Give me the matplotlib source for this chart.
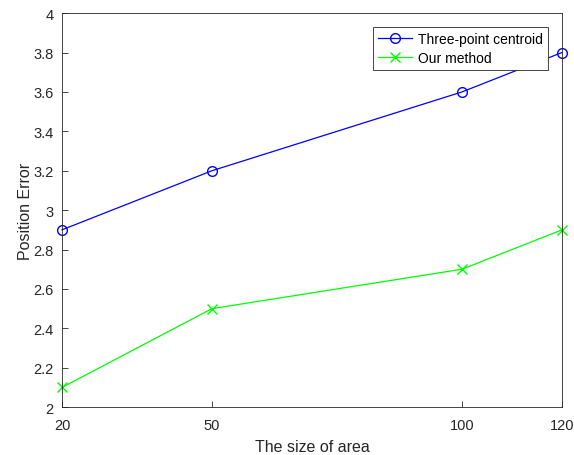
import matplotlib
matplotlib.use('Agg')
import numpy as np
from matplotlib import pyplot as plt

# data
area = [20, 50, 100, 120]
centroid_err = [2.9, 3.2, 3.6, 3.8]
our_err = [2.1, 2.5, 2.7, 2.9]
xticks = [20, 50, 100, 120]
yticks = np.round(np.arange(2.0, 4.01, 0.2), 1)
ytick_labels = ['2', '2.2', '2.4', '2.6', '2.8', '3', '3.2', '3.4', '3.6', '3.8', '4']

plt.rcParams['font.family'] = ['Arial', 'Liberation Sans', 'DejaVu Sans']

fig = plt.figure(figsize=(5.74, 4.56), dpi=100)
ax = fig.add_axes([0.108, 0.105, 0.871, 0.864])

ax.plot(area, centroid_err, color='#0000ff', marker='o', markersize=7,
        markerfacecolor='none', linewidth=0.9, label='Three-point centroid',
        clip_on=False)
ax.plot(area, our_err, color='#00ff00', marker='x', markersize=7,
        linewidth=0.9, label='Our method', clip_on=False)

ax.set_xlim(20, 120)
ax.set_ylim(2, 4)
ax.set_xticks(xticks)
ax.set_yticks(yticks)
ax.set_yticklabels(ytick_labels)
ax.tick_params(direction='in', labelsize=10.5, colors='#262626', length=4, width=0.6)
ax.tick_params(axis='x', pad=8)
ax.tick_params(axis='y', pad=6)
for s in ax.spines.values():
    s.set_color('#262626')
    s.set_linewidth(0.6)

ax.set_xlabel('The size of area', fontsize=11.5, color='#262626', labelpad=5)
ax.set_ylabel('Position Error', fontsize=11.5, color='#262626', labelpad=0)

leg = ax.legend(loc='upper right', bbox_to_anchor=(0.98, 0.975), fontsize=10,
                fancybox=False, framealpha=1, edgecolor='#262626',
                borderpad=0.35, handlelength=2.5, labelspacing=0.35,
                handletextpad=0.4, borderaxespad=0.3)
leg.get_frame().set_linewidth(0.6)

fig.savefig('out.png', dpi=100)
